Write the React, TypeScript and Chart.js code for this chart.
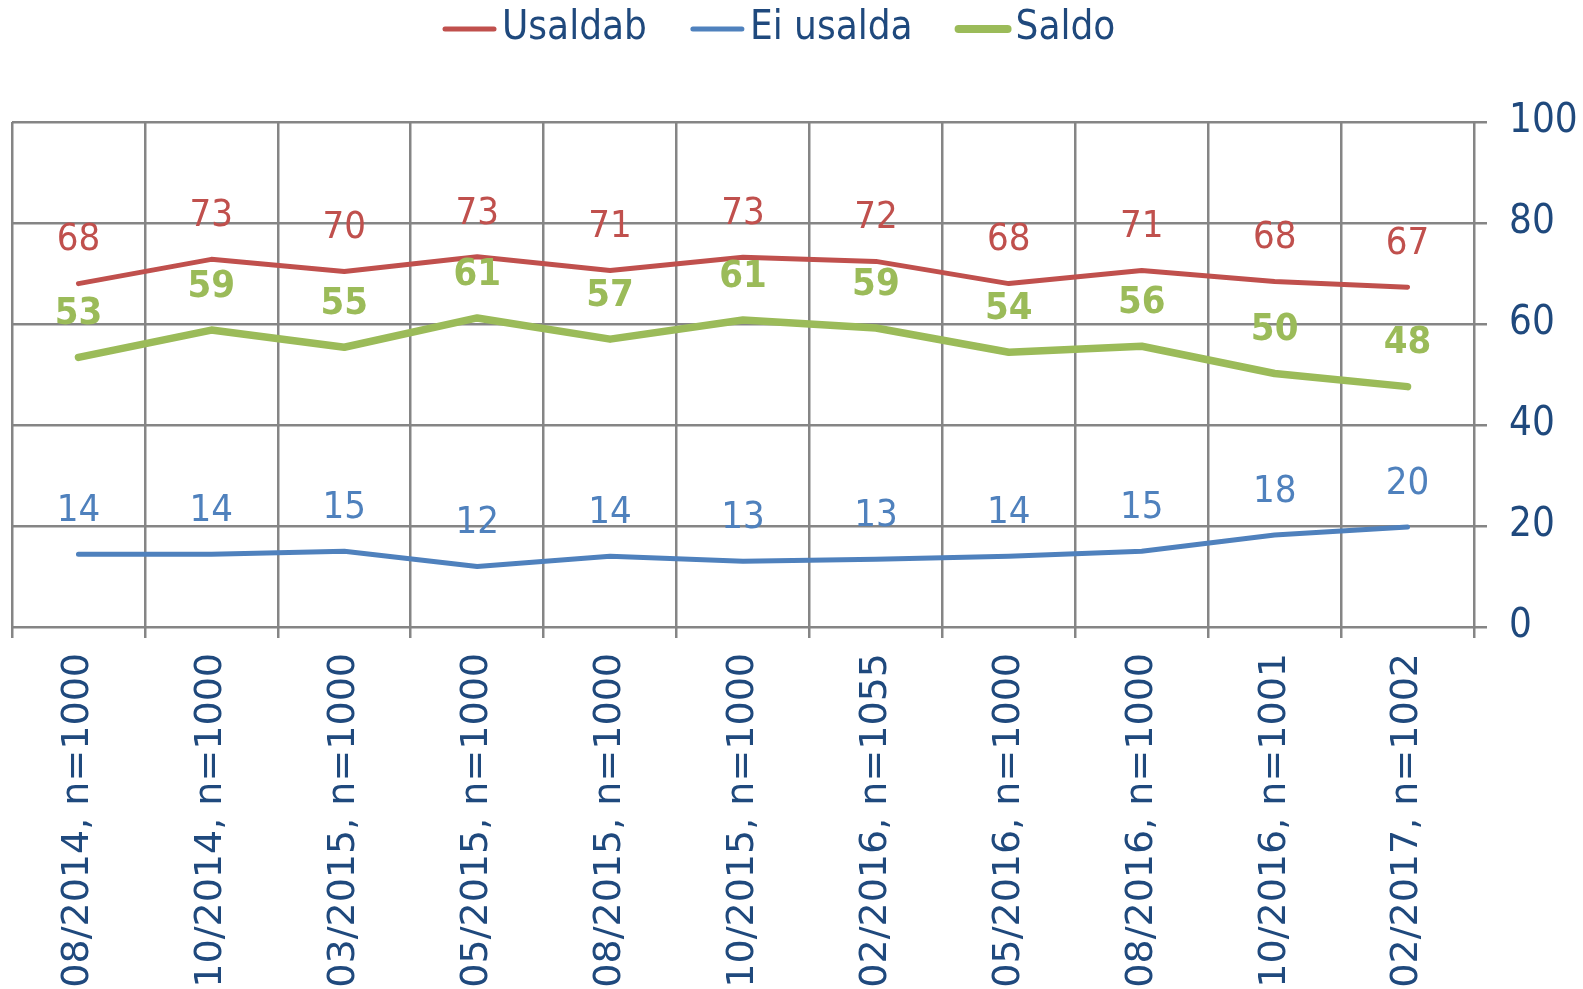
import React, { useEffect, useRef } from 'react';
import { Chart, registerables } from 'chart.js';

Chart.register(...registerables);

const categories = [
  '08/2014, n=1000',
  '10/2014, n=1000',
  '03/2015, n=1000',
  '05/2015, n=1000',
  '08/2015, n=1000',
  '10/2015, n=1000',
  '02/2016, n=1055',
  '05/2016, n=1000',
  '08/2016, n=1000',
  '10/2016, n=1001',
  '02/2017, n=1002',
];
const usaldab = [68.0, 72.8, 70.4, 73.3, 70.6, 73.2, 72.4, 68.0, 70.6, 68.4, 67.3];
const eiUsalda = [14.4, 14.4, 15.0, 12.0, 14.0, 13.0, 13.4, 14.0, 15.0, 18.2, 19.8];
const saldo = [53.4, 58.8, 55.4, 61.2, 57.0, 60.8, 59.2, 54.4, 55.6, 50.2, 47.6];
const yTicks = [0, 20, 40, 60, 80, 100];
const seriesNames = ['Usaldab', 'Ei usalda', 'Saldo'];
const seriesColors = ['#C0504D', '#4F81BD', '#9BBB59'];
const seriesWidths = [5, 5, 7.5];
const legendWidths = [5, 5, 8];
const seriesBold = [false, false, true];

const NAVY = '#1F497D';
const GRID = '#858585';
const NARROW = '"DejaVu Sans Condensed", "Liberation Sans", sans-serif';
const WIDE = '"DejaVu Sans", Verdana, sans-serif';

const dataLabelPlugin = {
  id: 'dataLabels',
  afterDatasetsDraw(chart: any) {
    const ctx = chart.ctx;
    ctx.save();
    ctx.textAlign = 'center';
    ctx.textBaseline = 'middle';
    chart.data.datasets.forEach((ds: any, i: number) => {
      const meta = chart.getDatasetMeta(i);
      ctx.fillStyle = seriesColors[i];
      ctx.font = `${seriesBold[i] ? 'bold ' : ''}38px ${NARROW}`;
      meta.data.forEach((el: any, j: number) => {
        const v = Math.round(ds.data[j]);
        ctx.fillText(String(v), el.x, el.y - 43);
      });
    });
    ctx.restore();
  },
};

const legendPlugin = {
  id: 'customLegend',
  afterDraw(chart: any) {
    const ctx = chart.ctx;
    ctx.save();
    ctx.font = `40px ${NARROW}`;
    const lineLen = 55;
    const gap = 5;
    const spacing = 43;
    const widths = seriesNames.map((n) => ctx.measureText(n).width);
    let x = 442;
    const y = 29;
    ctx.textBaseline = 'middle';
    ctx.textAlign = 'left';
    seriesNames.forEach((n, i) => {
      ctx.strokeStyle = seriesColors[i];
      ctx.lineWidth = legendWidths[i];
      ctx.lineCap = 'round';
      ctx.beginPath();
      ctx.moveTo(x + 3, y);
      ctx.lineTo(x + lineLen - 3, y);
      ctx.stroke();
      ctx.fillStyle = NAVY;
      ctx.fillText(n, x + lineLen + gap, y);
      x += lineLen + gap + widths[i] + spacing;
    });
    ctx.restore();
  },
};

export default function App() {
  const ref = useRef<HTMLCanvasElement>(null);

  useEffect(() => {
    if (!ref.current) return;
    const series = [usaldab, eiUsalda, saldo];
    const chart = new Chart(ref.current, {
      type: 'line',
      data: {
        labels: categories,
        datasets: series.map((d, i) => ({
          label: seriesNames[i],
          data: d,
          borderColor: seriesColors[i],
          backgroundColor: seriesColors[i],
          borderWidth: seriesWidths[i],
          pointRadius: 0,
          pointHoverRadius: 0,
          tension: 0,
          borderCapStyle: 'round',
          borderJoinStyle: 'round',
          fill: false,
        })),
      },
      options: {
        animation: false,
        responsive: false,
        devicePixelRatio: 1,
        events: [],
        layout: { padding: { left: 12, right: 0, top: 122, bottom: 0 } },
        plugins: {
          legend: { display: false },
          tooltip: { enabled: false },
        },
        scales: {
          x: {
            offset: true,
            grid: {
              offset: true,
              color: GRID,
              lineWidth: 2.5,
              tickLength: 11,
            },
            border: { display: false },
            ticks: {
              autoSkip: false,
              maxRotation: 90,
              minRotation: 90,
              padding: 15,
              color: NAVY,
              font: { family: WIDE, size: 38 },
            },
            afterFit: (s: any) => {
              s.height = 362;
            },
          },
          y: {
            position: 'right',
            min: 0,
            max: 100,
            grid: { color: GRID, lineWidth: 2.5, tickLength: 13 },
            border: { display: false },
            ticks: {
              padding: 22,
              color: NAVY,
              font: { family: NARROW, size: 40 },
            },
            afterBuildTicks: (s: any) => {
              s.ticks = yTicks.map((v) => ({ value: v }));
            },
            afterFit: (s: any) => {
              s.width = 109;
            },
          },
        },
      } as any,
      plugins: [dataLabelPlugin, legendPlugin],
    });
    return () => chart.destroy();
  }, []);

  return (
    <div style={{ position: 'fixed', left: 0, top: 0, width: 1583, height: 989, background: '#fff', overflow: 'hidden' }}>
      <canvas ref={ref} width={1583} height={989} style={{ display: 'block', width: 1583, height: 989 }} />
    </div>
  );
}
